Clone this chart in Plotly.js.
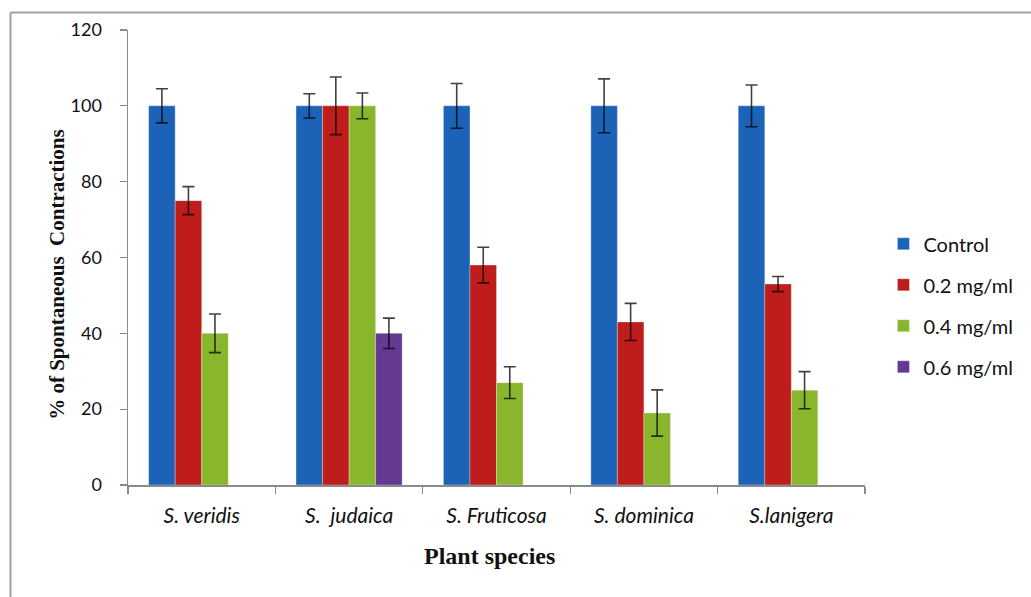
<!DOCTYPE html>
<html>
<head>
<meta charset="utf-8">
<script src="https://cdn.plot.ly/plotly-3.0.1.min.js"></script>
<style>html,body{margin:0;padding:0;background:#fff;}#chart{width:1031px;height:597px;}</style>
</head>
<body>
<div id="chart"></div>
<script>
const categories = ["S. veridis", "S.  judaica", "S. Fruticosa", "S. dominica", "S.lanigera"];
const seriesNames = ["Control", "0.2 mg/ml", "0.4 mg/ml", "0.6 mg/ml"];
const controlVals = [100, 100, 100, 100, 100];
const controlErr  = [4.5, 3.2, 5.9, 7.1, 5.5];
const c02Vals = [75, 100, 58, 43, 53];
const c02Err  = [3.7, 7.6, 4.7, 4.9, 2.0];
const c04Vals = [40, 100, 27, 19, 25];
const c04Err  = [5.1, 3.4, 4.2, 6.1, 4.9];
const c06Vals = [null, 40, null, null, null];
const c06Err  = [null, 4.0, null, null, null];
const yTickVals = [0, 20, 40, 60, 80, 100, 120];

const colors = ["rgb(28,99,184)", "rgb(190,29,27)", "rgb(138,182,46)", "rgb(99,57,146)"];
const vals = [controlVals, c02Vals, c04Vals, c06Vals];
const errs = [controlErr, c02Err, c04Err, c06Err];

const traces = seriesNames.map((name, i) => ({
  type: "bar",
  name: name,
  x: categories,
  y: vals[i],
  legendgroup: "g" + i,
  marker: {color: colors[i], line: {color: "rgba(255,255,255,0.5)", width: 0.6}},
  error_y: {type: "data", array: errs[i], visible: true, color: "rgba(0,0,0,0.75)", thickness: 1.6, width: 6}
}));

const layout = {
  width: 1031, height: 597,
  paper_bgcolor: "#fff", plot_bgcolor: "#fff",
  margin: {l: 128, r: 166, t: 29.5, b: 112, pad: 0, autoexpand: false},
  barmode: "group",
  bargap: 0.28,
  bargroupgap: 0,
  showlegend: true,
  legend: {
    x: 1.025, xanchor: "left", y: 0.573, yanchor: "top",
    font: {family: "Lato, 'Open Sans', sans-serif", size: 20, color: "#111"},
    tracegroupgap: 12, traceorder: "grouped", bgcolor: "rgba(0,0,0,0)"
  },
  xaxis: {
    type: "category",
    showline: true, linecolor: "#8a8a8a", linewidth: 1.5,
    ticks: "outside", tickson: "boundaries", ticklen: 7, tickcolor: "#8a8a8a", tickwidth: 1.2,
    tickfont: {family: "Lato, 'Open Sans', sans-serif", size: 21, color: "#111", style: "italic"},
    ticklabelstandoff: 11,
    showgrid: false, zeroline: false
  },
  yaxis: {
    range: [0, 120],
    tickvals: yTickVals, ticktext: yTickVals.map(String),
    showline: true, linecolor: "#8a8a8a", linewidth: 1.5,
    ticks: "outside", ticklen: 7, tickcolor: "#8a8a8a", tickwidth: 1.2,
    tickfont: {family: "Lato, 'Open Sans', sans-serif", size: 18, color: "#111"},
    ticklabelstandoff: 14,
    showgrid: false, zeroline: false
  },
  annotations: [
    {text: "<b>% of Spontaneous  Contractions</b>", xref: "paper", yref: "paper",
     x: -0.0963, y: 0.462, xanchor: "center", yanchor: "middle", textangle: -90, showarrow: false,
     font: {family: "'Liberation Serif', 'Times New Roman', serif", size: 21, color: "#111"}},
    {text: "<b>Plant species</b>", xref: "paper", yref: "paper",
     x: 0.49, y: -0.156, xanchor: "center", yanchor: "middle", showarrow: false,
     font: {family: "'Liberation Serif', 'Times New Roman', serif", size: 24, color: "#111"}}
  ],
  shapes: [
    {type: "line", xref: "paper", yref: "paper", x0: (10.5 - 128) / 737, x1: (1031 - 128) / 737,
     y0: (485 - 12) / 455.5, y1: (485 - 12) / 455.5, line: {color: "#a0a0a0", width: 2}},
    {type: "line", xref: "paper", yref: "paper", x0: (10.5 - 128) / 737, x1: (10.5 - 128) / 737,
     y0: (485 - 12) / 455.5, y1: (485 - 600) / 455.5, line: {color: "#a0a0a0", width: 2}}
  ]
};

Plotly.newPlot("chart", traces, layout, {displayModeBar: false, staticPlot: true});
</script>
</body>
</html>
